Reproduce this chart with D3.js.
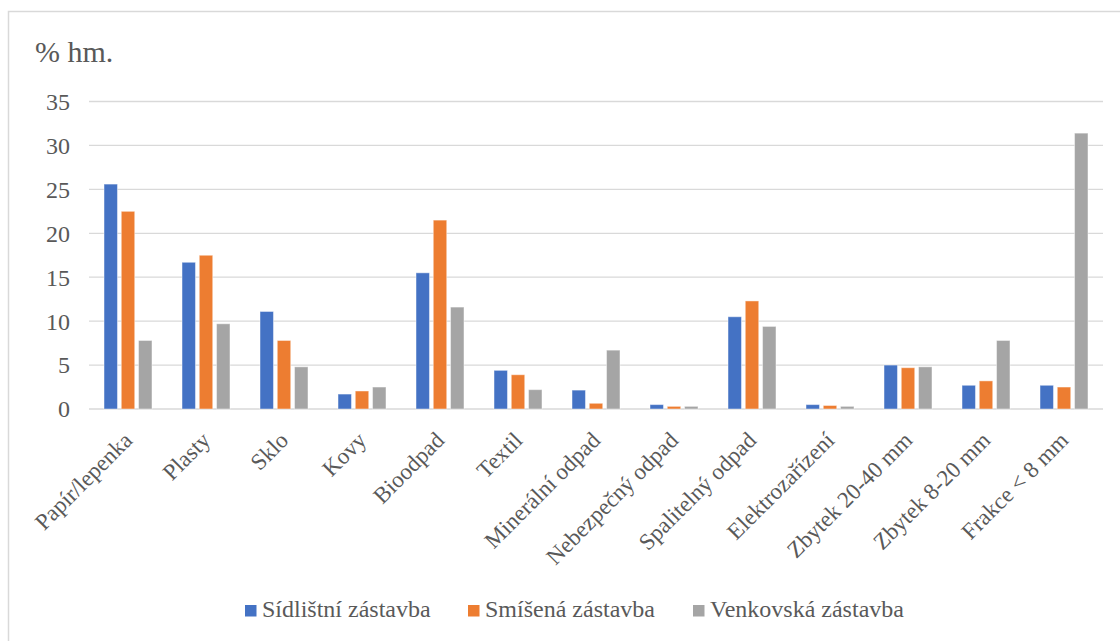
<!DOCTYPE html>
<meta charset="utf-8">
<style>
body { margin: 0; background: #fff; }
svg text { font-family: 'Liberation Serif', 'Times New Roman', Times, serif; fill: #595959; }
.grid line { stroke: #d9d9d9; stroke-width: 1.3px; }
</style>
<svg width="1120" height="641"></svg>
<script src="https://d3js.org/d3.v7.min.js"></script>
<script>
// data
var categories = ["Papír/lepenka", "Plasty", "Sklo", "Kovy", "Bioodpad", "Textil", "Minerální odpad",
  "Nebezpečný odpad", "Spalitelný odpad", "Elektrozařízení", "Zbytek 20-40 mm", "Zbytek 8-20 mm", "Frakce < 8 mm"];
var seriesNames = ["Sídlištní zástavba", "Smíšená zástavba", "Venkovská zástavba"];
var sidlistni = [25.6, 16.7, 11.1, 1.7, 15.5, 4.4, 2.15, 0.5, 10.5, 0.5, 5.0, 2.7, 2.7];
var smisena   = [22.5, 17.5, 7.8, 2.05, 21.5, 3.9, 0.65, 0.3, 12.3, 0.4, 4.7, 3.2, 2.5];
var venkovska = [7.8, 9.7, 4.8, 2.5, 11.6, 2.2, 6.7, 0.3, 9.4, 0.3, 4.8, 7.8, 31.4];
var yTicks = [0, 5, 10, 15, 20, 25, 30, 35];
var colors = ["#4472c4", "#ed7d31", "#a5a5a5"];

var values = [sidlistni, smisena, venkovska];
var serif = "'Liberation Serif', 'Times New Roman', Times, serif";

var svg = d3.select("svg");

// chart border
svg.append("rect")
  .attr("x", 8.5).attr("y", 11.5)
  .attr("width", 1140).attr("height", 660)
  .attr("fill", "none")
  .attr("stroke", "#d9d9d9")
  .attr("stroke-width", 1.5);

var x0 = d3.scaleBand()
  .domain(categories)
  .range([89, 1103])
  .paddingInner(0.385)
  .paddingOuter(0.1925);

var x1 = d3.scaleBand()
  .domain(seriesNames)
  .range([0, x0.bandwidth()])
  .paddingInner(0.22);

var y = d3.scaleLinear()
  .domain([0, 35])
  .range([409, 101.5]);

// gridlines
svg.append("g").attr("class", "grid")
  .selectAll("line")
  .data(yTicks)
  .enter().append("line")
  .attr("x1", 89).attr("x2", 1103)
  .attr("y1", function(d) { return y(d); })
  .attr("y2", function(d) { return y(d); });

// y tick labels
svg.append("g")
  .selectAll("text")
  .data(yTicks)
  .enter().append("text")
  .attr("x", 70)
  .attr("y", function(d) { return y(d); })
  .attr("dy", "0.35em")
  .attr("text-anchor", "end")
  .attr("font-family", serif)
  .style("font-size", "24px")
  .text(function(d) { return d; });

// title
svg.append("text")
  .attr("x", 35).attr("y", 62)
  .attr("font-family", serif)
  .style("font-size", "30px")
  .text("% hm.");

// bars
var groups = svg.append("g")
  .selectAll("g")
  .data(categories)
  .enter().append("g")
  .attr("transform", function(d) { return "translate(" + x0(d) + ",0)"; });

groups.selectAll("rect")
  .data(function(d, i) {
    return seriesNames.map(function(s, k) { return {s: s, k: k, v: values[k][i]}; });
  })
  .enter().append("rect")
  .attr("x", function(d) { return x1(d.s); })
  .attr("width", x1.bandwidth())
  .attr("y", function(d) { return y(d.v); })
  .attr("height", function(d) { return y(0) - y(d.v); })
  .attr("fill", function(d) { return colors[d.k]; })
  .attr("stroke", "#fff")
  .attr("stroke-opacity", 0.45)
  .attr("stroke-width", 1);

// category labels
svg.append("g")
  .selectAll("text")
  .data(categories)
  .enter().append("text")
  .attr("transform", function(d) {
    return "translate(" + (x0(d) + x0.bandwidth() / 2) + ",436) rotate(-45)";
  })
  .attr("dy", "0.35em")
  .attr("text-anchor", "end")
  .attr("font-family", serif)
  .style("font-size", "23px")
  .text(function(d) { return d; });

// legend
var legendX = [245, 468, 693];
var legend = svg.append("g")
  .selectAll("g")
  .data(seriesNames)
  .enter().append("g")
  .attr("transform", function(d, i) { return "translate(" + legendX[i] + ",605)"; });

legend.append("rect")
  .attr("width", 11.5).attr("height", 11.5)
  .attr("fill", function(d, i) { return colors[i]; });

legend.append("text")
  .attr("x", 17).attr("y", 12)
  .attr("font-family", serif)
  .style("font-size", "24px")
  .text(function(d) { return d; });
</script>
